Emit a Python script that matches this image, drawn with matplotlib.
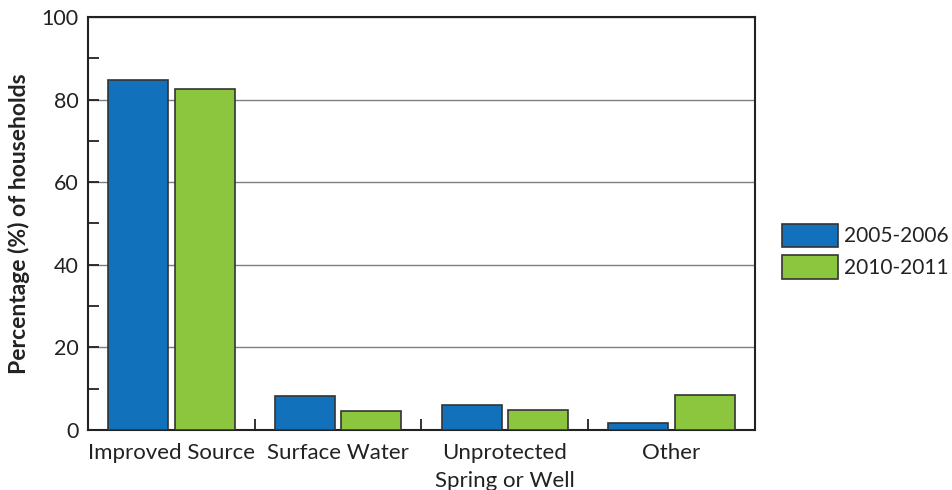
import numpy as np
import matplotlib.pyplot as plt
from matplotlib.ticker import MultipleLocator

plt.rcParams['font.family'] = ['Lato', 'DejaVu Sans']

# Data
categories = ["Improved Source", "Surface Water", "Unprotected\nSpring or Well", "Other"]
series_labels = ["2005-2006", "2010-2011"]
values_2005 = [84.8, 8.3, 6.0, 1.6]
values_2010 = [82.6, 4.7, 4.8, 8.5]

BLUE = "#1172bb"
GREEN = "#8cc63f"
EDGE = "#333333"
INK = "#222222"

fig = plt.figure(figsize=(9.53, 4.90), dpi=100)
ax = fig.add_axes([88 / 953, 60 / 490, (755 - 88) / 953, (430 - 17) / 490])

x = np.arange(len(categories))
w = 0.36
ax.bar(x - 0.2, values_2005, w, color=BLUE, edgecolor=EDGE, linewidth=1.2,
       label=series_labels[0], zorder=3)
ax.bar(x + 0.2, values_2010, w, color=GREEN, edgecolor=EDGE, linewidth=1.2,
       label=series_labels[1], zorder=3)

ax.set_xlim(-0.5, len(categories) - 0.5)
ax.set_ylim(0, 100)
ax.yaxis.set_major_locator(MultipleLocator(20))
ax.yaxis.set_minor_locator(MultipleLocator(10))
ax.yaxis.grid(True, which='major', color='#7f7f7f', linewidth=1.0, zorder=1)
ax.tick_params(axis='y', which='both', direction='in', length=8, width=1.3,
               color=INK, labelsize=15.5, pad=7, labelcolor=INK)

# category separators on x axis
ax.set_xticks(x)
ax.set_xticklabels(categories, fontsize=16, linespacing=1.5, color=INK)
ax.tick_params(axis='x', which='major', length=0, pad=9)
ax.set_xticks(x[:-1] + 0.5, minor=True)
ax.tick_params(axis='x', which='minor', direction='in', length=8, width=1.3,
               color=INK)

for s in ax.spines.values():
    s.set_linewidth(1.5)
    s.set_color(INK)

ax.set_ylabel("Percentage (%) of households", fontsize=16.5, fontweight='bold',
              labelpad=8, color=INK)

leg = ax.legend(loc='center left', bbox_to_anchor=(1.012, 0.433), frameon=False,
                fontsize=15, handlelength=2.7, handleheight=1.35,
                handletextpad=0.3, labelspacing=0.38)
for t in leg.get_texts():
    t.set_color(INK)

fig.savefig("out.png", dpi=100)
